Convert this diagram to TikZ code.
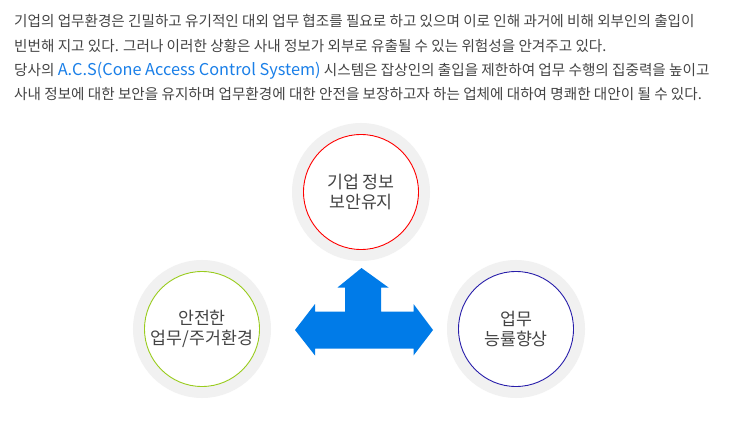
\documentclass[tikz,border=0pt]{standalone}
\usepackage{fontspec}
\setmainfont{Noto Sans CJK KR}
\usepackage{tikz}
\usetikzlibrary{positioning}
\definecolor{bodygray}{RGB}{68,68,68}
\definecolor{ringgray}{RGB}{241,241,241}
\definecolor{linkblue}{RGB}{26,127,232}
\definecolor{arrowblue}{RGB}{0,123,232}
\definecolor{ringgreen}{RGB}{153,204,30}
\definecolor{ringnavy}{RGB}{40,30,170}
\tikzset{
  ring/.style={circle,fill=white,line width=0.9pt,minimum size=115pt,inner sep=0pt,
    align=center,text=bodygray,font=\fontsize{17.3}{19.5}\selectfont,
    preaction={draw=ringgray,line width=23pt}},
  para/.style={anchor=north west,inner sep=0pt,align=left,text=bodygray,
    font=\fontsize{14.6}{24.3}\selectfont}
}

\begin{document}
\begin{tikzpicture}[x=1pt,y=-1pt]
            \useasboundingbox (0,0) rectangle (730,422);
            \fill[white] (0,0) rectangle (730,422);

            \node[para] (intro) at (14,14.5) {기업의 업무환경은 긴밀하고 유기적인 대외 업무 협조를 필요로 하고 있으며 이로 인해 과거에 비해 외부인의 출입이\\
            빈번해 지고 있다. 그러나 이러한 상황은 사내 정보가 외부로 유출될 수 있는 위험성을 안겨주고 있다.\\
            당사의 \textcolor{linkblue}{\fontsize{16.3}{24.3}\selectfont A.C.S(Cone Access Control System)} 시스템은 잡상인의 출입을 제한하여 업무 수행의 집중력을 높이고\\
            사내 정보에 대한 보안을 유지하며 업무환경에 대한 안전을 보장하고자 하는 업체에 대하여 명쾌한 대안이 될 수 있다.};

            \node[ring,draw=red] (top) at (361,192) {기업 정보\\보안유지};
            \node[ring,draw=ringgreen,on grid,below left=137pt and 159pt of top] (left) {안전한\\업무/주거환경};
            \node[ring,draw=ringnavy,on grid,below right=137pt and 155pt of top] (right) {업무\\능률향상};

            \fill[arrowblue] (361.5,268) -- (388.5,287.5) -- (381,287.5) -- (381,311.5) -- (413.5,311.5)
              -- (413.5,304) -- (433,330) -- (413.5,355.5) -- (413.5,348.5) -- (315,348.5)
              -- (315,355.5) -- (295,330) -- (315,304) -- (315,311.5) -- (345,311.5)
              -- (345,287.5) -- (337.5,287.5) -- cycle;
        \end{tikzpicture}
\end{document}
